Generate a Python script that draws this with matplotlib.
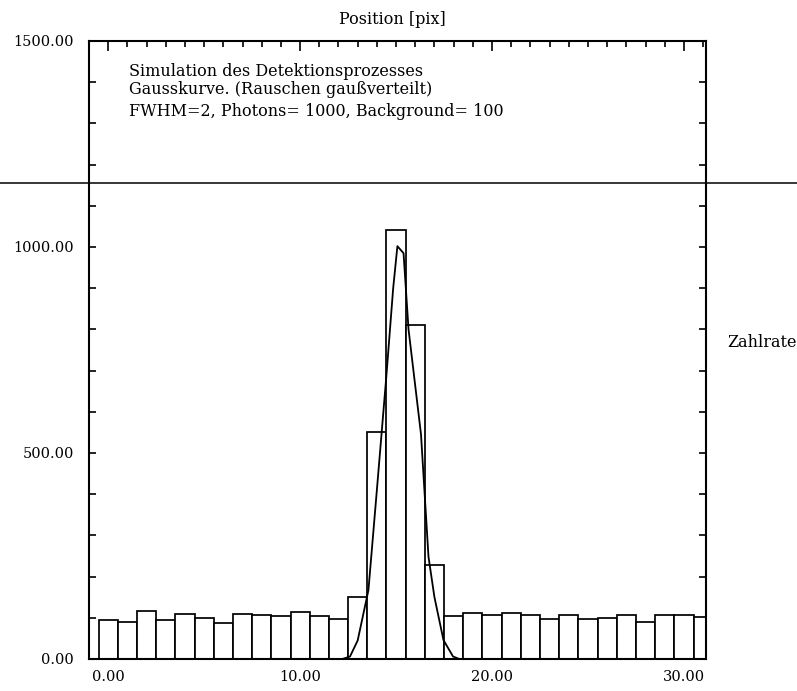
import matplotlib
matplotlib.use("Agg")
import matplotlib.pyplot as plt
from matplotlib.lines import Line2D
from matplotlib.ticker import MultipleLocator, FixedLocator

# ---- data ----
positions = list(range(0, 32))
counts = [95, 91, 116, 95, 109, 100, 87, 109, 106, 105, 113, 105, 98, 151,
          551, 1042, 811, 227, 104, 112, 108, 111, 107, 98, 107, 98, 100,
          108, 90, 108, 108, 103]

curve_x = [12.2, 12.6, 13.0, 13.56, 14.0, 14.5, 14.85, 15.07, 15.39, 15.65,
           16.3, 16.69, 17.0, 17.47, 17.97, 18.3]
curve_y = [0, 6, 45, 167, 410, 690, 900, 1002, 985, 800,
           545, 248, 150, 46, 6, 0]

xticks = [0, 10, 20, 30]
xtick_labels = ["0.00", "10.00", "20.00", "30.00"]
yticks = [0, 500, 1000, 1500]
ytick_labels = ["0.00", "500.00", "1000.00", "1500.00"]

annotation = ["Simulation des Detektionsprozesses",
              "Gausskurve. (Rauschen gaußverteilt)",
              "FWHM=2, Photons= 1000, Background= 100"]

W, H = 797, 691
fig = plt.figure(figsize=(W / 100, H / 100), dpi=100)
ax = fig.add_axes([89 / W, 1 - 659 / H, (706 - 89) / W, (659 - 41) / H])

serif = "DejaVu Serif"

ax.bar(positions, counts, width=1.0, facecolor="white", edgecolor="black",
       linewidth=1.25, zorder=2)
ax.plot(curve_x, curve_y, color="black", linewidth=1.3, zorder=3)

ax.set_xlim(-1.0, 31.15)
ax.set_ylim(0, 1500)

for s in ax.spines.values():
    s.set_linewidth(1.5)
    s.set_zorder(4)

ax.xaxis.set_major_locator(FixedLocator(xticks))
ax.set_xticklabels(xtick_labels, fontfamily=serif, fontsize=10.5)
ax.xaxis.set_minor_locator(MultipleLocator(1))
ax.yaxis.set_major_locator(FixedLocator(yticks))
ax.set_yticklabels(ytick_labels, fontfamily=serif, fontsize=10.5)
ax.yaxis.set_minor_locator(MultipleLocator(100))

ax.tick_params(axis="both", which="both", direction="in", top=True,
               right=True, width=1.2)
ax.tick_params(axis="x", which="major", length=7, pad=8)
ax.tick_params(axis="x", which="minor", length=4)
ax.tick_params(axis="y", which="major", length=5, pad=11)
ax.tick_params(axis="y", which="minor", length=5)

fig.text(392 / W, 1 - 19 / H, "Position [pix]", ha="center", va="center",
         fontfamily=serif, fontsize=11.5)
fig.text(727 / W, 1 - 342 / H, "Zahlrate", ha="left", va="center",
         fontfamily=serif, fontsize=11.5)

for txt, yy in zip(annotation, [71.5, 90, 111]):
    fig.text(129 / W, 1 - yy / H, txt, ha="left", va="center",
             fontfamily=serif, fontsize=11.5)

fig.add_artist(Line2D([0, 1], [1 - 182.5 / H, 1 - 182.5 / H],
                      transform=fig.transFigure, color="black", linewidth=1.1))

fig.savefig("out.png", dpi=100, facecolor="white")
